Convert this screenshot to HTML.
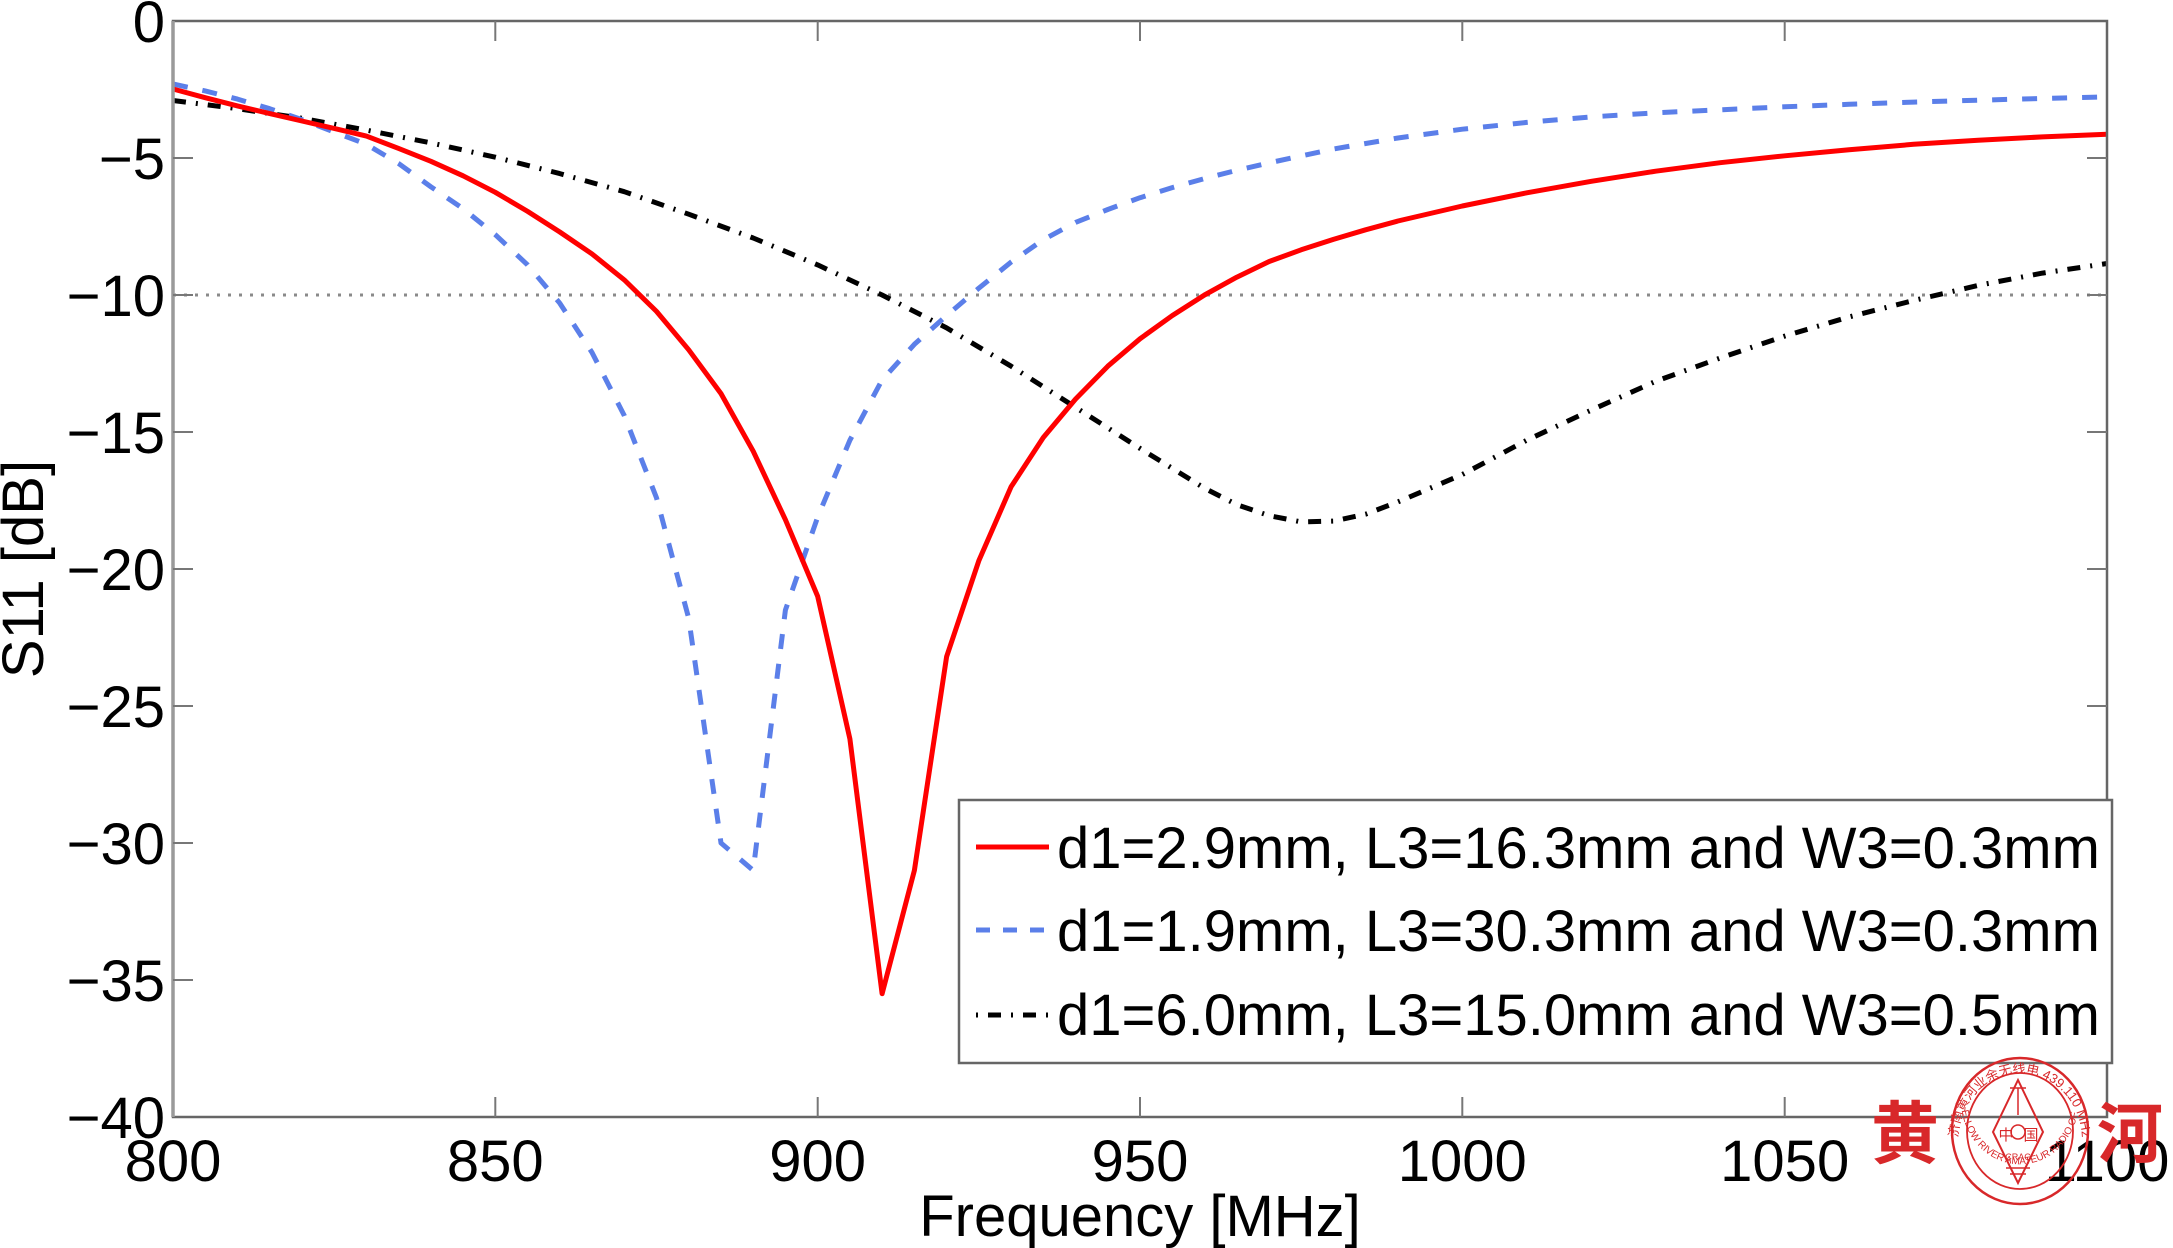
<!DOCTYPE html>
<html>
<head>
<meta charset="utf-8">
<style>
html,body{margin:0;padding:0;background:#fff;}
svg{display:block;}
text{font-family:"Liberation Sans","Noto Sans CJK SC",sans-serif;}
</style>
</head>
<body>
<svg width="2173" height="1248" viewBox="0 0 2173 1248" xmlns="http://www.w3.org/2000/svg">
<rect x="0" y="0" width="2173" height="1248" fill="#fff"/>

<!-- -10 dB dotted reference line -->
<line x1="173" y1="295" x2="2107" y2="295" stroke="#8a8a8a" stroke-width="3" stroke-dasharray="3 8"/>

<!-- curves -->
<polyline fill="none" stroke="#000" stroke-width="5" stroke-dasharray="13 10 2 10" stroke-linejoin="round"
points="173,100.5 237.5,108.7 301.9,118.3 366.4,130.1 430.9,142.9 495.3,157.2 559.8,173.6 624.3,191.7 688.7,214.2 753.2,238.0 817.7,264.9 882.1,295.0 946.6,327.9 1011.1,366.2 1075.5,407.3 1140.0,448.4 1204.5,488.2 1236.7,504.6 1268.9,515.6 1301.2,521.9 1333.4,521.1 1365.6,514.2 1397.9,501.9 1462.3,474.5 1526.8,440.2 1591.3,410.1 1655.7,381.3 1720.2,358.0 1784.7,336.1 1849.1,316.9 1913.6,300.5 1978.1,285.4 2042.5,273.1 2107,263.5"/>

<polyline fill="none" stroke="#5b7fe9" stroke-width="5" stroke-dasharray="15 15" stroke-linejoin="round"
points="173,84.0 205.2,90.9 237.5,99.1 269.7,108.7 301.9,119.6 334.2,132.0 366.4,144.3 398.6,163.5 430.9,186.8 463.1,208.7 495.3,234.7 527.6,264.9 559.8,303.2 592.0,352.5 624.3,415.6 656.5,497.8 688.7,618.3 721.0,843.0 753.2,870.4 785.4,610.1 817.7,517.0 849.9,440.2 882.1,379.9 914.4,344.3 946.6,315.6 978.8,288.2 1011.1,262.1 1043.3,239.7 1075.5,222.4 1107.8,209.5 1140.0,197.7 1172.2,187.6 1204.5,178.6 1236.7,170.3 1268.9,162.9 1333.4,149.0 1397.9,138.0 1462.3,129.2 1526.8,122.4 1591.3,116.9 1655.7,112.8 1720.2,109.8 1784.7,106.8 1849.1,104.3 1913.6,102.1 1978.1,100.2 2042.5,98.5 2107,96.9"/>

<polyline fill="none" stroke="#f00" stroke-width="5" stroke-linejoin="round"
points="173,89.0 205.2,97.7 237.5,105.9 269.7,113.6 301.9,121.0 334.2,128.4 366.4,136.1 398.6,148.4 430.9,161.3 463.1,175.8 495.3,192.3 527.6,211.4 559.8,232.0 592.0,253.9 624.3,279.9 656.5,311.4 688.7,349.8 721.0,393.6 753.2,451.2 785.4,519.7 817.7,596.4 849.9,738.9 882.1,993.7 914.4,870.4 946.6,656.7 978.8,560.8 1011.1,486.8 1043.3,437.5 1075.5,399.1 1107.8,366.2 1140.0,338.8 1172.2,315.6 1204.5,295.0 1236.7,277.2 1268.9,261.6 1301.2,249.8 1333.4,239.4 1365.6,229.8 1397.9,221.0 1462.3,206.0 1526.8,192.8 1591.3,181.3 1655.7,171.2 1720.2,162.7 1784.7,155.8 1849.1,149.8 1913.6,144.3 1978.1,140.2 2042.5,136.9 2107,134.2"/>

<!-- axes box -->
<rect x="173" y="21" width="1934" height="1096" fill="none" stroke="#666" stroke-width="2.5"/>
<line x1="173" y1="21" x2="173" y2="1117" stroke="#9a9a9a" stroke-width="3.5"/>

<!-- ticks -->
<g stroke="#777" stroke-width="2">
<line x1="495.3" y1="1117" x2="495.3" y2="1097"/><line x1="495.3" y1="21" x2="495.3" y2="41"/>
<line x1="817.7" y1="1117" x2="817.7" y2="1097"/><line x1="817.7" y1="21" x2="817.7" y2="41"/>
<line x1="1140" y1="1117" x2="1140" y2="1097"/><line x1="1140" y1="21" x2="1140" y2="41"/>
<line x1="1462.3" y1="1117" x2="1462.3" y2="1097"/><line x1="1462.3" y1="21" x2="1462.3" y2="41"/>
<line x1="1784.7" y1="1117" x2="1784.7" y2="1097"/><line x1="1784.7" y1="21" x2="1784.7" y2="41"/>
<line x1="173" y1="158" x2="193" y2="158"/><line x1="2107" y1="158" x2="2087" y2="158"/>
<line x1="173" y1="295" x2="193" y2="295"/><line x1="2107" y1="295" x2="2087" y2="295"/>
<line x1="173" y1="432" x2="193" y2="432"/><line x1="2107" y1="432" x2="2087" y2="432"/>
<line x1="173" y1="569" x2="193" y2="569"/><line x1="2107" y1="569" x2="2087" y2="569"/>
<line x1="173" y1="706" x2="193" y2="706"/><line x1="2107" y1="706" x2="2087" y2="706"/>
<line x1="173" y1="843" x2="193" y2="843"/><line x1="2107" y1="843" x2="2087" y2="843"/>
<line x1="173" y1="980" x2="193" y2="980"/><line x1="2107" y1="980" x2="2087" y2="980"/>
</g>

<!-- y tick labels -->
<g font-size="58" fill="#000" text-anchor="end">
<text x="165" y="42">0</text>
<text x="165" y="179">−5</text>
<text x="165" y="316">−10</text>
<text x="165" y="453">−15</text>
<text x="165" y="590">−20</text>
<text x="165" y="727">−25</text>
<text x="165" y="864">−30</text>
<text x="165" y="1001">−35</text>
<text x="165" y="1138">−40</text>
</g>

<!-- x tick labels -->
<g font-size="58" fill="#000" text-anchor="middle">
<text x="173" y="1181">800</text>
<text x="495.3" y="1181">850</text>
<text x="817.7" y="1181">900</text>
<text x="1140" y="1181">950</text>
<text x="1462.3" y="1181">1000</text>
<text x="1784.7" y="1181">1050</text>
<text x="2107" y="1181">1100</text>
</g>

<!-- axis labels -->
<text x="1140" y="1236" font-size="58" text-anchor="middle" fill="#000">Frequency [MHz]</text>
<text transform="translate(43,569) rotate(-90)" x="0" y="0" font-size="58" text-anchor="middle" fill="#000">S11 [dB]</text>

<!-- legend -->
<rect x="959" y="800" width="1153" height="263" fill="#fff" stroke="#666" stroke-width="2.5"/>
<line x1="976" y1="847" x2="1049" y2="847" stroke="#f00" stroke-width="5"/>
<line x1="976" y1="930" x2="1049" y2="930" stroke="#5b7fe9" stroke-width="5" stroke-dasharray="14 13"/>
<line x1="976" y1="1015" x2="1049" y2="1015" stroke="#000" stroke-width="5" stroke-dasharray="2 10 13 10"/>
<g font-size="58" fill="#000">
<text x="1057" y="868">d1=2.9mm, L3=16.3mm and W3=0.3mm</text>
<text x="1057" y="951">d1=1.9mm, L3=30.3mm and W3=0.3mm</text>
<text x="1057" y="1035">d1=6.0mm, L3=15.0mm and W3=0.5mm</text>
</g>

<!-- watermark stamp -->
<g fill="none" stroke="#d8282a">
<ellipse cx="2020" cy="1131" rx="68" ry="73" stroke-width="2.5"/>
<ellipse cx="2020" cy="1131" rx="53" ry="58" stroke-width="1.8"/>
<polygon points="2018,1080 2043,1132 2018,1183 1993,1132" stroke-width="2"/>
<line x1="2018" y1="1088" x2="2018" y2="1115" stroke-width="1.5"/>
<line x1="2010" y1="1088" x2="2026" y2="1088" stroke-width="1.5"/>
<circle cx="2018" cy="1132" r="7" stroke-width="1.5"/>
<line x1="2006" y1="1168" x2="2030" y2="1168" stroke-width="1.5"/>
<line x1="2010" y1="1174" x2="2026" y2="1174" stroke-width="1.5"/>
</g>
<defs>
<path id="arcTop" d="M 1958 1140 A 62 67 0 0 1 2082 1140"/>
<path id="arcBot" d="M 1962 1112 A 59 64 0 0 0 2078 1112"/>
</defs>
<g fill="#d8282a">
<text font-size="13" font-family="'Liberation Sans','Noto Sans CJK SC',sans-serif"><textPath href="#arcTop" startOffset="50%" text-anchor="middle">济南黄河业余无线电 439.110 MHz</textPath></text>
<text font-size="10" font-family="'Liberation Sans',sans-serif"><textPath href="#arcBot" startOffset="50%" text-anchor="middle">THE YELLOW RIVER AMATEUR RADIO OF JINAN</textPath></text>
<text x="2006" y="1140" font-size="15" text-anchor="middle" font-family="'Liberation Sans','Noto Sans CJK SC',sans-serif">中</text>
<text x="2031" y="1140" font-size="15" text-anchor="middle" font-family="'Liberation Sans','Noto Sans CJK SC',sans-serif">国</text>
<text x="2018" y="1160" font-size="9" text-anchor="middle">CRAC</text>
<text x="1905" y="1158" font-size="68" font-weight="bold" text-anchor="middle" font-family="'Liberation Serif','Noto Serif CJK SC',serif">黄</text>
<text x="2130" y="1157" font-size="66" font-weight="bold" text-anchor="middle" font-family="'Liberation Serif','Noto Serif CJK SC',serif">河</text>
</g>
</svg>
</body>
</html>
